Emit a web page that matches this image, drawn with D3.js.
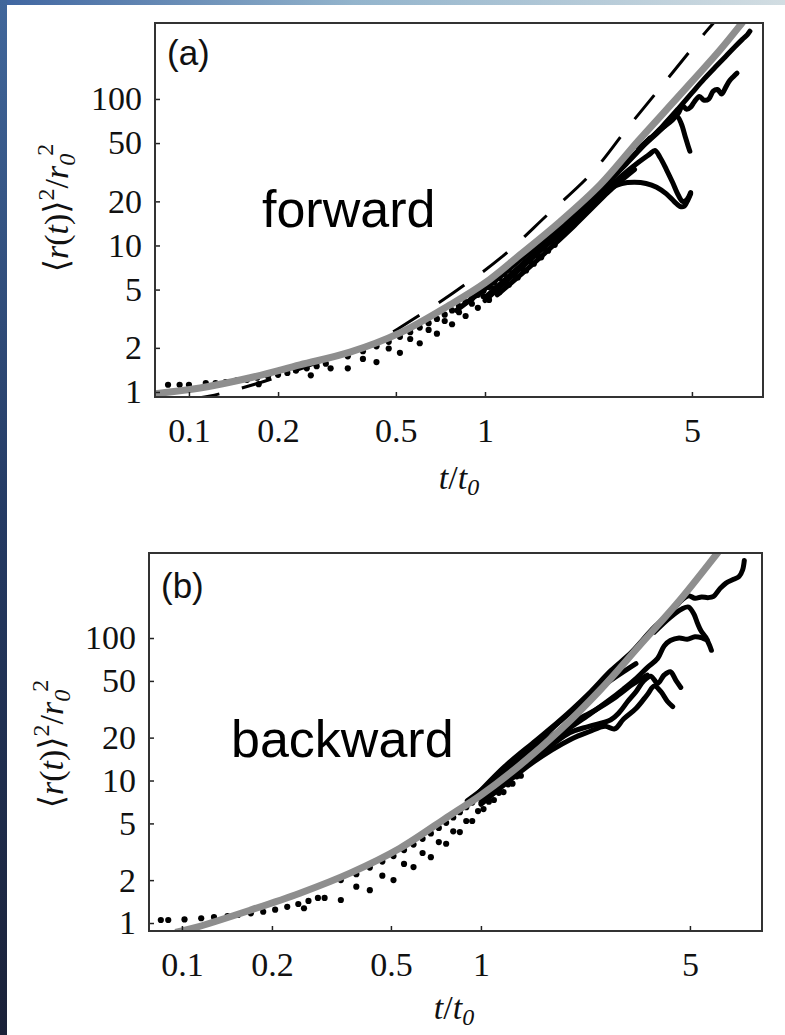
<!DOCTYPE html>
<html>
<head>
<meta charset="utf-8">
<script src="https://cdn.jsdelivr.net/npm/d3@7"></script>
<style>
  body { margin: 0; background: #fff; }
  svg { display: block; }
  .serif { font-family: "Liberation Serif", "DejaVu Serif", "Times New Roman", Tinos, "Nimbus Roman", "Nimbus Roman No9 L", FreeSerif, "Noto Serif", Georgia, serif; }
  .sans { font-family: "Liberation Sans", Arial, sans-serif; }
</style>
</head>
<body>
<svg id="chart" width="785" height="1035"></svg>
<script>
// ticks shared by both panels
var xTicks = [0.1, 0.2, 0.5, 1, 5];
var yTicks = [1, 2, 5, 10, 20, 50, 100];

// ---- (a) forward : [t/t0, <r>^2/r0^2] ----
var fwdFit = [[0.072,0.96],[0.109,1.065],[0.161,1.25],[0.237,1.53],[0.35,1.87],[0.516,2.53],[0.76,3.92],[1.0,5.55],[1.31,8.6],[1.79,14.5],[2.45,26],[3.3,52],[4.56,107],[6.22,216],[7.38,330],[7.8,380]];
var fwdDashed = [[0.1,0.9],[0.118,0.94],[0.172,1.15],[0.209,1.31],[0.3,1.7],[0.42,2.16],[0.52,2.78],[0.78,4.74],[1.14,8.35],[1.62,16.1],[2.31,31.7],[3.03,63.4],[4.11,135],[5.57,287],[6.3,380]];
var fwdDotsTop = [[0.085,1.12],[0.093,1.12],[0.1,1.12],[0.114,1.15],[0.123,1.15],[0.133,1.17],[0.145,1.2],[0.157,1.21],[0.17,1.25],[0.185,1.28],[0.2,1.31],[0.215,1.35],[0.23,1.4],[0.25,1.45],[0.27,1.5],[0.29,1.56]];
var fwdDotsLow = [[0.172,1.13],[0.258,1.3],[0.344,1.45],[0.43,1.6],[0.516,1.85],[0.602,2.15],[0.688,2.5],[0.774,2.9],[0.86,3.3],[0.946,3.75],[1.032,4.25],[1.118,4.8],[1.204,5.4],[1.29,6.05],[1.376,6.75],[1.462,7.5],[1.548,8.3],[1.634,9.2],[1.72,10.1]];
var fwdDotsMid = [[0.301,1.45],[0.387,1.68],[0.473,1.98],[0.559,2.3],[0.645,2.65],[0.731,3.05],[0.817,3.5],[0.903,4.0],[0.989,4.5],[1.075,5.1],[1.161,5.7],[1.247,6.3],[1.333,7.0],[1.419,7.8],[1.505,8.6],[1.591,9.5]];
var fwdDotsUp = [[0.344,1.75],[0.387,1.9],[0.43,2.05],[0.473,2.2],[0.516,2.38],[0.559,2.56],[0.602,2.75],[0.645,2.95],[0.688,3.15],[0.731,3.37],[0.774,3.6],[0.817,3.85],[0.86,4.1],[0.903,4.35],[0.946,4.6],[0.989,4.9],[1.032,5.2],[1.075,5.6],[1.118,6.0],[1.161,6.4],[1.204,6.85]];
var fwdTraj1 = [[0.9,4.3],[1.2,6.9],[1.6,11.3],[2.0,16.5],[2.5,25],[3.0,36],[3.5,50],[4.0,66],[4.5,86],[5.0,110],[5.5,137],[6.0,165],[6.5,195],[7.0,228],[7.4,255],[7.7,275],[7.85,290]];
var fwdTraj2 = [[3.3,46],[3.7,56],[4.0,64],[4.3,72],[4.5,80],[4.65,90],[4.8,85],[4.95,88],[5.1,96],[5.3,104],[5.5,98],[5.7,100],[5.9,113],[6.1,116],[6.3,108],[6.5,120],[6.7,133],[6.9,142],[7.1,150]];
var fwdTraj3 = [[3.3,45],[3.8,58],[4.2,70],[4.45,76],[4.6,68],[4.75,55],[4.85,48],[4.92,44]];
var fwdTraj4 = [[1.0,4.4],[1.5,9.2],[2.0,15.5],[2.5,23],[2.9,30],[3.3,37],[3.6,42],[3.75,44.5],[3.9,40],[4.1,33],[4.3,27],[4.5,22],[4.65,20],[4.8,20.5],[4.95,23]];
var fwdTraj5 = [[1.0,4.2],[1.5,8.8],[2.0,14.5],[2.4,20],[2.7,25],[2.9,26.5],[3.2,27],[3.5,26.5],[3.8,25],[4.1,22.5],[4.35,20],[4.55,18.5],[4.7,18.5],[4.85,20.5],[4.95,22.5]];
var fwdTraj6 = [[1.1,4.6],[1.4,7.0],[1.7,10.0],[2.0,13.6],[2.3,18],[2.6,23],[2.9,28],[3.2,33]];
var fwdTraj7 = [[0.8,3.6],[1.1,5.9],[1.4,8.9],[1.7,12.3],[2.0,16.5],[2.4,23.5],[2.8,32],[3.2,42],[3.6,54]];

// ---- (b) backward ----
var bwdFit = [[0.095,0.86],[0.109,0.92],[0.169,1.23],[0.248,1.62],[0.365,2.24],[0.536,3.35],[0.788,5.7],[1.0,7.9],[1.35,12.8],[1.84,22.6],[2.5,43],[3.4,89],[4.63,185],[6.2,398],[6.5,450]];
var bwdDotsTop = [[0.085,1.05],[0.09,1.05],[0.102,1.06],[0.116,1.08],[0.128,1.1],[0.142,1.12],[0.154,1.14],[0.17,1.17],[0.187,1.2],[0.205,1.24],[0.225,1.3],[0.245,1.36],[0.265,1.43],[0.285,1.5]];
var bwdDotsLow = [[0.256,1.27],[0.34,1.45],[0.425,1.7],[0.51,2.0],[0.595,2.47],[0.68,2.9],[0.765,3.6],[0.85,4.35],[0.935,5.2],[1.02,6.3],[1.105,7.3],[1.19,8.3],[1.275,9.5],[1.36,10.8]];
var bwdDotsMid = [[0.3,1.5],[0.383,1.8],[0.468,2.15],[0.553,2.6],[0.638,3.1],[0.723,3.7],[0.808,4.4],[0.893,5.2],[0.978,6.1],[1.063,7.1],[1.148,8.2],[1.233,9.4],[1.318,10.7]];
var bwdDotsUp = [[0.34,2.0],[0.383,2.2],[0.425,2.45],[0.468,2.7],[0.51,2.95],[0.553,3.25],[0.595,3.55],[0.638,3.9],[0.68,4.25],[0.723,4.65],[0.765,5.05],[0.808,5.5],[0.85,6.0],[0.893,6.5],[0.935,7.0],[0.978,7.6],[1.02,8.2]];
var bwdTraj1 = [[0.95,7.6],[1.2,12.5],[1.5,18.5],[1.7,23],[2.0,31],[2.33,42],[2.72,59],[3.2,80],[3.74,115],[4.1,138],[4.38,158],[4.7,185],[4.95,198],[5.2,190],[5.47,194],[5.75,192],[6.0,196],[6.3,222],[6.6,243],[7.0,258],[7.3,270],[7.5,300],[7.6,350]];
var bwdTraj2 = [[3.8,110],[4.3,140],[4.7,160],[4.95,165],[5.15,148],[5.3,127],[5.45,112],[5.65,101],[5.8,90],[5.9,82]];
var bwdTraj3 = [[1.0,7.3],[1.5,15],[1.9,22],[2.3,29],[2.7,37],[3.0,44],[3.3,52],[3.6,62],[3.9,72],[4.1,88],[4.3,96],[4.6,100],[4.9,98],[5.2,102],[5.5,100],[5.7,97]];
var bwdTraj4 = [[1.0,7.0],[1.5,14],[1.98,21.6],[2.3,24],[2.72,26.7],[2.9,30],[3.1,36],[3.3,42],[3.5,50],[3.7,54],[3.9,48],[4.1,55],[4.3,58],[4.5,50],[4.66,45]];
var bwdTraj5 = [[1.0,6.8],[1.5,13.5],[2.0,19.5],[2.3,22],[2.6,24],[2.8,23],[3.0,27],[3.3,32],[3.6,40],[3.8,46],[4.0,42],[4.2,36],[4.38,33]];
var bwdTraj6 = [[0.9,7.2],[1.2,11.5],[1.5,17.5],[1.8,25],[2.1,33],[2.4,42],[2.7,50],[3.0,58],[3.3,66]];
var bwdTraj7 = [[0.85,6.2],[1.15,10.3],[1.45,15.5],[1.75,21],[2.05,26],[2.4,31],[2.8,38],[3.2,47],[3.6,55]];

var svg = d3.select("#chart");

// slide background strips
var defs = svg.append("defs");
var gLeft = defs.append("linearGradient").attr("id","gl").attr("x1",0).attr("y1",0).attr("x2",0).attr("y2",1);
gLeft.append("stop").attr("offset","0").attr("stop-color","#41679b");
gLeft.append("stop").attr("offset","0.5").attr("stop-color","#243a63");
gLeft.append("stop").attr("offset","1").attr("stop-color","#1a2138");
var gTop = defs.append("linearGradient").attr("id","gt").attr("x1",0).attr("y1",0).attr("x2",1).attr("y2",0);
gTop.append("stop").attr("offset","0").attr("stop-color","#3f65a0");
gTop.append("stop").attr("offset","0.45").attr("stop-color","#93b4cc");
gTop.append("stop").attr("offset","1").attr("stop-color","#d2dde2");
svg.append("rect").attr("x",0).attr("y",0).attr("width",785).attr("height",5).attr("fill","url(#gt)");
svg.append("rect").attr("x",0).attr("y",0).attr("width",7).attr("height",1035).attr("fill","url(#gl)");

var panels = [
  {id:"a", left:155, right:763, top:23, bottom:397, xDom:[0.0768,8.69], yDom:[0.924,330],
   label:"(a)", word:"forward", wordX:262, wordY:227, labelY:65, yTitleX:68, yTitleY:208, xTitleX:459, xTitleY:489,
   fit:fwdFit, dashed:fwdDashed, dots:[fwdDotsTop,fwdDotsLow,fwdDotsMid,fwdDotsUp],
   trajs:[fwdTraj1,fwdTraj2,fwdTraj3,fwdTraj4,fwdTraj5,fwdTraj6,fwdTraj7]},
  {id:"b", left:149, right:762, top:553, bottom:931, xDom:[0.0776,8.71], yDom:[0.879,395],
   label:"(b)", word:"backward", wordX:231, wordY:757, labelY:598, yTitleX:63, yTitleY:744, xTitleX:454, xTitleY:1019,
   fit:bwdFit, dashed:null, dots:[bwdDotsTop,bwdDotsLow,bwdDotsMid,bwdDotsUp],
   trajs:[bwdTraj1,bwdTraj2,bwdTraj3,bwdTraj4,bwdTraj5,bwdTraj6,bwdTraj7]}
];

panels.forEach(function(p) {
  var x = d3.scaleLog().domain(p.xDom).range([p.left, p.right]);
  var y = d3.scaleLog().domain(p.yDom).range([p.bottom, p.top]);
  var g = svg.append("g");

  defs.append("clipPath").attr("id","clip"+p.id)
    .append("rect").attr("x",p.left).attr("y",p.top)
    .attr("width",p.right-p.left).attr("height",p.bottom-p.top);

  var plot = g.append("g").attr("clip-path","url(#clip"+p.id+")");
  var line = d3.line().x(d => x(d[0])).y(d => y(d[1])).curve(d3.curveCatmullRom);

  // black trajectories
  plot.selectAll(".traj").data(p.trajs).enter().append("path")
    .attr("d", line)
    .attr("fill","none").attr("stroke","#000")
    .attr("stroke-width",5).attr("stroke-linejoin","round").attr("stroke-linecap","round");

  // dotted series
  p.dots.forEach(function(series) {
    plot.selectAll(null).data(series).enter().append("circle")
      .attr("cx", d => x(d[0])).attr("cy", d => y(d[1]))
      .attr("r",3.1).attr("fill","#000");
  });

  if (p.dashed) {
    plot.append("path").datum(p.dashed).attr("d", line)
      .attr("fill","none").attr("stroke","#000").attr("stroke-width",3)
      .attr("stroke-dasharray","31,23");
  }

  plot.append("path").datum(p.fit).attr("d", line)
    .attr("fill","none").attr("stroke","#8e8e8e").attr("stroke-width",7);

  // axes
  var xAxis = d3.axisBottom(x).tickValues(xTicks).tickSize(-5).tickPadding(21).tickFormat(d3.format(""));
  var yAxis = d3.axisLeft(y).tickValues(yTicks).tickSize(-5).tickPadding(13).tickFormat(d3.format(""));
  var gx = g.append("g").attr("transform","translate(0,"+p.bottom+")").call(xAxis);
  var gy = g.append("g").attr("transform","translate("+p.left+",0)").call(yAxis);
  [gx, gy].forEach(function(ax) {
    ax.attr("font-family", null).attr("font-size", null).attr("class","serif");
    ax.select(".domain").remove();
    ax.selectAll("line").attr("stroke","#222").attr("stroke-width",1.5);
    ax.selectAll("text").attr("fill","#111").attr("class","serif").style("font-size","34px");
  });

  g.append("rect").attr("x",p.left).attr("y",p.top)
    .attr("width",p.right-p.left).attr("height",p.bottom-p.top)
    .attr("fill","none").attr("stroke","#333").attr("stroke-width",2);

  g.append("text").attr("class","sans").attr("x",p.left+12).attr("y",p.labelY)
    .style("font-size","35px").attr("fill","#111").text(p.label);

  g.append("text").attr("class","sans").attr("x",p.wordX).attr("y",p.wordY)
    .style("font-size","52px").attr("fill","#000").text(p.word);

  // x title  t/t0
  var xt = g.append("text").attr("class","serif").attr("x",p.xTitleX).attr("y",p.xTitleY).attr("text-anchor","middle")
    .style("font-size","34px").attr("fill","#111");
  xt.append("tspan").style("font-style","italic").text("t");
  xt.append("tspan").text("/");
  xt.append("tspan").style("font-style","italic").text("t");
  xt.append("tspan").attr("dy",6).style("font-size","24px").style("font-style","italic").text("0");

  // y title  <r(t)>^2 / r0^2
  var yt = g.append("text").attr("class","serif")
    .attr("transform","translate("+p.yTitleX+","+p.yTitleY+") rotate(-90)")
    .attr("text-anchor","middle").style("font-size","34px").attr("fill","#111");
  yt.append("tspan").text("\u27E8");
  yt.append("tspan").style("font-style","italic").text("r");
  yt.append("tspan").text("(");
  yt.append("tspan").style("font-style","italic").text("t");
  yt.append("tspan").text(")");
  yt.append("tspan").text("\u27E9");
  yt.append("tspan").attr("dy",-14).style("font-size","24px").text("2");
  yt.append("tspan").attr("dy",14).text("/");
  yt.append("tspan").style("font-style","italic").text("r");
  yt.append("tspan").attr("dy",7).style("font-size","24px").style("font-style","italic").text("0");
  yt.append("tspan").attr("dy",-22).attr("dx",-2).style("font-size","24px").text("2");
});
</script>
</body>
</html>
